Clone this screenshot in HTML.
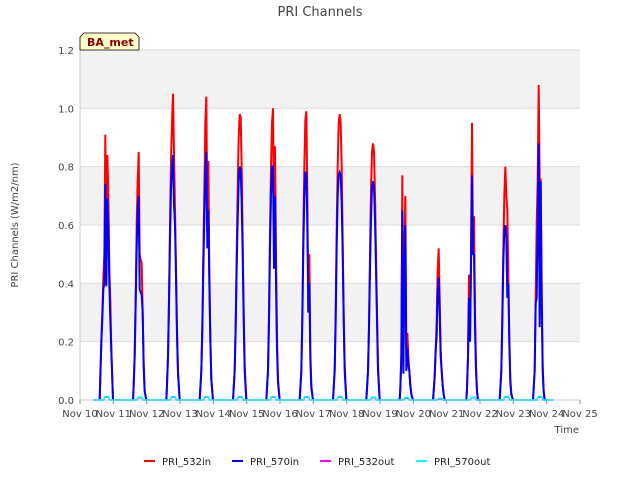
<!DOCTYPE html>
<html><head><meta charset="utf-8"><style>
body{margin:0;background:#fff;font-family:"DejaVu Sans","Liberation Sans",sans-serif;}
svg text{font-family:"DejaVu Sans","Liberation Sans",sans-serif;}
</style></head><body>
<svg id="chart" width="640" height="480" xmlns="http://www.w3.org/2000/svg">
<rect width="640" height="480" fill="#fff"/>
<text x="320" y="16" text-anchor="middle" font-size="13" fill="#444">PRI Channels</text>
<g id="plot"></g>
<text transform="translate(18,225) rotate(-90)" text-anchor="middle" font-size="10" fill="#444">PRI Channels (W/m2/nm)</text>
<text x="579" y="433" text-anchor="end" font-size="10" fill="#444">Time</text>
<g>
<path d="M80,50 L80,37 L84,33 L135,33 L139,37 L139,50 Z" fill="#ffffcc" stroke="#000" stroke-width="0.8"/>
<text x="87" y="46" font-size="11" font-weight="bold" fill="#8b0000">BA_met</text>
</g>
<g id="legend"></g>
</svg>
<script>
const dayLabels=["Nov 10","Nov 11","Nov 12","Nov 13","Nov 14","Nov 15","Nov 16","Nov 17","Nov 18","Nov 19","Nov 20","Nov 21","Nov 22","Nov 23","Nov 24","Nov 25"];
const yTicks=[0,0.2,0.4,0.6,0.8,1.0,1.2];
const offsets=[0.59,0.61,0.64,0.67,0.70,0.73,0.76,0.79,0.82,0.85,0.88,0.91,0.94,0.99];
const red532in=[
[0,0.08,0.2,0.3,0.42,0.5,0.91,0.4,0.84,0.7,0.45,0.34,0.17,0],
[0,0.05,0.15,0.35,0.6,0.75,0.85,0.5,0.48,0.47,0.3,0.12,0.03,0],
[0,0.05,0.15,0.35,0.6,0.82,0.95,1.05,0.85,0.65,0.45,0.25,0.1,0],
[0,0.04,0.1,0.25,0.5,0.72,0.95,1.04,0.6,0.82,0.45,0.22,0.07,0],
[0,0.04,0.1,0.25,0.5,0.72,0.9,0.98,0.97,0.8,0.55,0.3,0.12,0],
[0,0.04,0.1,0.3,0.58,0.8,0.95,1.0,0.6,0.87,0.5,0.22,0.07,0],
[0,0.04,0.1,0.3,0.58,0.8,0.96,0.99,0.7,0.3,0.5,0.17,0.05,0],
[0,0.04,0.1,0.3,0.58,0.8,0.95,0.98,0.95,0.8,0.55,0.3,0.12,0],
[0,0.04,0.1,0.25,0.5,0.72,0.85,0.88,0.85,0.7,0.5,0.3,0.12,0],
[0,0.04,0.15,0.77,0.1,0.5,0.7,0.15,0.23,0.15,0.1,0.05,0.02,0],
[0,0.03,0.08,0.17,0.27,0.45,0.52,0.35,0.17,0.1,0.05,0.02,0,0],
[0,0.04,0.15,0.43,0.2,0.5,0.95,0.5,0.63,0.3,0.12,0.03,0,0],
[0,0.04,0.1,0.3,0.52,0.7,0.8,0.7,0.65,0.43,0.22,0.07,0.02,0],
[0,0.04,0.1,0.35,0.6,0.75,1.08,0.75,0.76,0.4,0.12,0.03,0,0]];
const blue570in=[
[0,0.08,0.2,0.28,0.38,0.4,0.74,0.39,0.69,0.6,0.4,0.27,0.17,0],
[0,0.05,0.15,0.33,0.52,0.65,0.7,0.38,0.37,0.36,0.3,0.12,0.03,0],
[0,0.05,0.15,0.33,0.55,0.72,0.8,0.84,0.67,0.6,0.42,0.22,0.09,0],
[0,0.04,0.1,0.25,0.45,0.62,0.78,0.85,0.52,0.65,0.4,0.2,0.07,0],
[0,0.04,0.1,0.25,0.45,0.62,0.75,0.8,0.79,0.68,0.5,0.28,0.1,0],
[0,0.04,0.1,0.27,0.52,0.7,0.8,0.8,0.45,0.7,0.4,0.17,0.06,0],
[0,0.04,0.1,0.27,0.52,0.7,0.78,0.78,0.6,0.3,0.4,0.14,0.04,0],
[0,0.04,0.1,0.27,0.52,0.7,0.77,0.78,0.77,0.68,0.5,0.28,0.1,0],
[0,0.04,0.1,0.25,0.45,0.62,0.73,0.75,0.73,0.62,0.45,0.27,0.1,0],
[0,0.04,0.15,0.65,0.09,0.4,0.6,0.1,0.18,0.12,0.1,0.05,0.02,0],
[0,0.03,0.08,0.17,0.22,0.37,0.42,0.3,0.15,0.1,0.05,0.02,0,0],
[0,0.04,0.15,0.35,0.2,0.45,0.77,0.5,0.5,0.25,0.1,0.03,0,0],
[0,0.04,0.1,0.27,0.47,0.58,0.6,0.56,0.35,0.4,0.19,0.06,0.02,0],
[0,0.04,0.1,0.33,0.35,0.6,0.88,0.25,0.75,0.35,0.1,0.03,0,0]];
const mag532out=[0.01,0.008,0.01,0.01,0.01,0.01,0.01,0.01,0.008,0.006,0.004,0.008,0.01,0.01];
const cyan570out=[0.012,0.01,0.012,0.012,0.012,0.012,0.012,0.012,0.01,0.008,0.006,0.01,0.012,0.012];

const NS="http://www.w3.org/2000/svg";
const L=80,R=580,T=50,B=400;
const xS=d=>L+(R-L)*d/15;
const yS=v=>B-(B-T)*v/1.2;
const plot=document.getElementById('plot');
function mk(tag,attrs,parent){const e=document.createElementNS(NS,tag);for(const k in attrs)e.setAttribute(k,attrs[k]);(parent||plot).appendChild(e);return e;}
mk('rect',{x:L,y:T,width:R-L,height:B-T,fill:'#fff'});
for(let i=0;i<6;i+=2){const b=mk('rect',{x:L,y:yS(yTicks[i+1]+0.2),width:R-L,height:yS(yTicks[i+1])-yS(yTicks[i+1]+0.2),fill:'#f2f2f2'});

}
yTicks.forEach(v=>{mk('line',{x1:L,x2:R,y1:yS(v),y2:yS(v),stroke:'#dcdcdc','stroke-width':1});
const t=mk('text',{x:L-6,y:yS(v)+4,'text-anchor':'end','font-size':10,fill:'#444'});t.textContent=v.toFixed(1);

});
dayLabels.forEach((s,i)=>{mk('line',{x1:xS(i),x2:xS(i),y1:B,y2:B+4,stroke:'#888'});
const t=mk('text',{x:xS(i),y:B+17,'text-anchor':'middle','font-size':10,fill:'#444'});t.textContent=s;

});
mk('line',{x1:L,x2:L,y1:T,y2:B,stroke:'#ccc'});
mk('line',{x1:L,x2:R,y1:B,y2:B,stroke:'#ccc'});
function seriesPath(arr){let d='';arr.forEach((vals,day)=>{vals.forEach((v,j)=>{d+=(j?'L':'M')+xS(day+offsets[j]).toFixed(2)+','+yS(v).toFixed(2);});});return d;}
function outPath(arr){let d='M'+xS(0.4)+','+yS(0);arr.forEach((v,day)=>{d+='L'+xS(day+0.7)+','+yS(0)+'L'+xS(day+0.75)+','+yS(v)+'L'+xS(day+0.85)+','+yS(v)+'L'+xS(day+0.9)+','+yS(0);});d+='L'+xS(14.2)+','+yS(0);return d;}
const pr=mk('path',{d:seriesPath(red532in),fill:'none',stroke:'#ff0000','stroke-width':2});


const pb=mk('path',{d:seriesPath(blue570in),fill:'none',stroke:'#0000ff','stroke-width':2});


const pm=mk('path',{d:outPath(mag532out),fill:'none',stroke:'#ff00ff','stroke-width':1.5});


const pc=mk('path',{d:outPath(cyan570out),fill:'none',stroke:'#00ffff','stroke-width':1.5});


const legend=document.getElementById('legend');
const legItems=[["PRI_532in","#ff0000",144],["PRI_570in","#0000ff",232],["PRI_532out","#ff00ff",320],["PRI_570out","#00ffff",416]];
legItems.forEach(([n,c,x])=>{const g=mk('g',{},legend);


mk('line',{x1:x,x2:x+11,y1:461,y2:461,stroke:c,'stroke-width':2},g);
const t=mk('text',{x:x+18,y:465,'font-size':10,fill:'#222'},g);t.textContent=n;});
</script>
</body></html>
